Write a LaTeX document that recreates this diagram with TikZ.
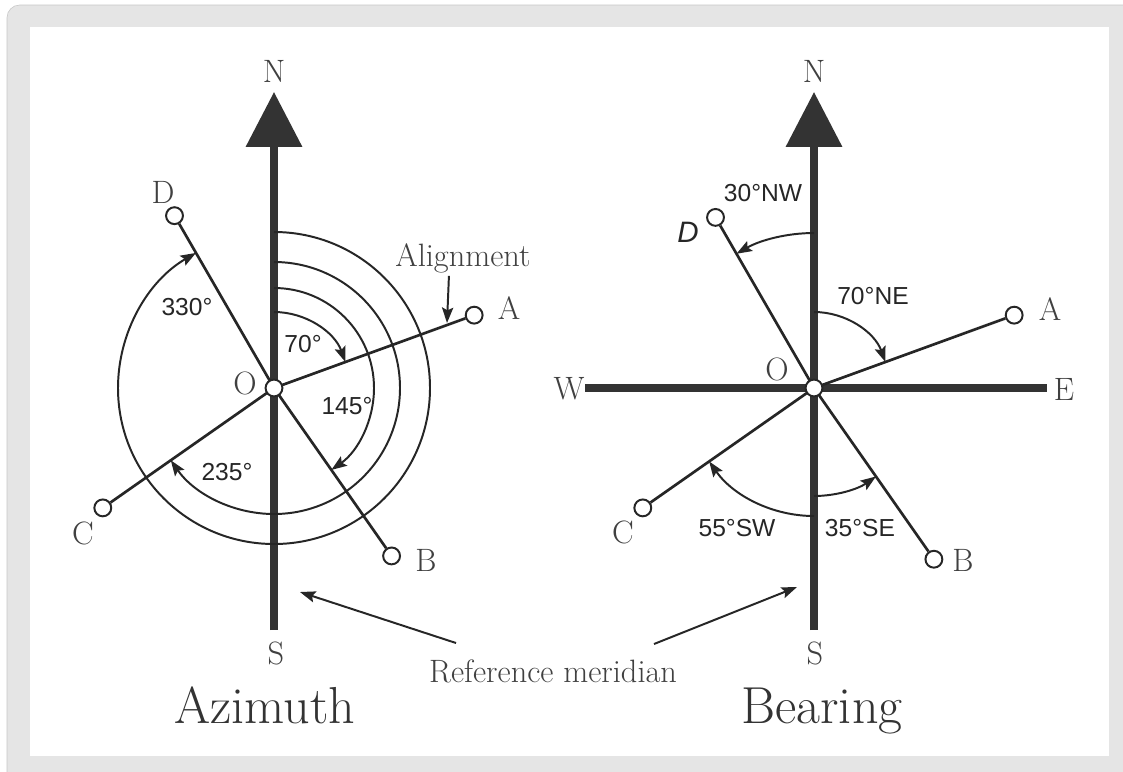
\documentclass[tikz,border=0pt]{standalone}
\usepackage{fontspec}
\newfontfamily\lblfont{Liberation Sans}
\usetikzlibrary{arrows.meta}
\tikzset{
  meridian/.style={line width=5pt,draw=black!80},
  ray/.style={line width=1.9pt,draw=black!85},
  angarc/.style={line width=1.4pt,draw=black!85,-{Stealth[length=11pt,width=8pt,inset=2pt]}},
  pointer/.style={line width=1.4pt,draw=black!85,-{Stealth[length=11pt,width=8pt,inset=2pt]}},
  pin/.style={circle,draw=black!85,line width=1.4pt,fill=white,minimum size=12pt,inner sep=0pt},
  letter/.style={text=black!75,font=\fontsize{23}{25}\selectfont,inner sep=0pt},
  angle label/.style={text=black!85,font=\lblfont\fontsize{17.5}{19}\selectfont,inner sep=0pt},
  title/.style={text=black!80,font=\fontsize{37}{40}\selectfont,inner sep=0pt,anchor=base}
}
\begin{document}
\begin{tikzpicture}[x=0.025cm,y=-0.025cm]
  \useasboundingbox (0,0) rectangle (1123,771);
  \filldraw[fill=gray!20,draw=gray!45,rounded corners=9pt] (7,5) rectangle (1150,800);
  \fill[white] (30,27) rectangle (1109,756);

  % azimuth
  \coordinate (O1) at (274,388);
  \coordinate (n1) at (274,92);
  \coordinate (s1) at (274,630);
  \draw[meridian,-{Triangle[length=39pt,width=39pt]}] (s1) -- (n1);
  \node[letter] (N1) at (274,71) {N};
  \node[letter] (S1) at (276,653) {S};
  \node[pin] (A1) at ([shift={(O1)}]-20:213) {};
  \node[pin] (B1) at ([shift={(O1)}]55:205) {};
  \node[pin] (C1) at ([shift={(O1)}]145:209) {};
  \node[pin] (D1) at ([shift={(O1)}]240:199) {};
  \foreach \p in {A1,B1,C1,D1}
    \draw[ray] (O1) -- (\p);
  \draw[angarc] ([shift={(O1)}]-90:76) arc[start angle=-90,end angle=-20,radius=76];
  \draw[angarc] ([shift={(O1)}]-90:100) arc[start angle=-90,end angle=55,radius=100];
  \draw[angarc] ([shift={(O1)}]-90:126) arc[start angle=-90,end angle=145,radius=126];
  \draw[angarc] ([shift={(O1)}]-90:156) arc[start angle=-90,end angle=240,radius=156];
  \node[pin] (o1) at (O1) {};
  \node[letter] (lA1) at (509,308) {A};
  \node[letter] (lB1) at (426,560) {B};
  \node[letter] (lC1) at (83,533) {C};
  \node[letter] (lD1) at (163,192) {D};
  \node[letter] (lO1) at (245,383) {O};
  \node[angle label] (a330) at (187,307) {330°};
  \node[angle label] (a70) at (303,344) {70°};
  \node[angle label] (a145) at (347,406) {145°};
  \node[angle label] (a235) at (227,472) {235°};
  \node[letter] (align) at (463,258) {Alignment};
  \coordinate (alpt) at (447,323);
  \draw[pointer] ([xshift=-10pt,yshift=-2pt]align.south) -- (alpt);
  \node[title] (az) at (265,723) {Azimuth};

  % bearing
  \coordinate (O2) at (814,388);
  \coordinate (n2) at (814,92);
  \coordinate (s2) at (814,630);
  \coordinate (w2) at (585,388);
  \coordinate (e2) at (1047,388);
  \draw[meridian,-{Triangle[length=39pt,width=39pt]}] (s2) -- (n2);
  \draw[meridian] (w2) -- (e2);
  \node[letter] (N2) at (814,71) {N};
  \node[letter] (S2) at (815,653) {S};
  \node[letter] (W2) at (569,389) {W};
  \node[letter] (E2) at (1064,389) {E};
  \node[pin] (A2) at ([shift={(O2)}]-20:213) {};
  \node[pin] (B2) at ([shift={(O2)}]55:209) {};
  \node[pin] (C2) at ([shift={(O2)}]145:209) {};
  \node[pin] (D2) at ([shift={(O2)}]240:197) {};
  \foreach \p in {A2,B2,C2,D2}
    \draw[ray] (O2) -- (\p);
  \draw[angarc] ([shift={(O2)}]-90:155) arc[start angle=-90,end angle=-120,radius=155];
  \draw[angarc] ([shift={(O2)}]-90:76) arc[start angle=-90,end angle=-20,radius=76];
  \draw[angarc] ([shift={(O2)}]90:128) arc[start angle=90,end angle=145,radius=128];
  \draw[angarc] ([shift={(O2)}]90:108) arc[start angle=90,end angle=55,radius=108];
  \node[pin] (o2) at (O2) {};
  \node[letter] (lA2) at (1050,309) {A};
  \node[letter] (lB2) at (963,560) {B};
  \node[letter] (lC2) at (623,532) {C};
  \node[letter] (lO2) at (777,369) {O};
  \node[angle label,font=\lblfont\itshape\fontsize{21}{23}\selectfont] (lD2) at (688,232) {D};
  \node[angle label] (nw) at (763,193) {30°NW};
  \node[angle label] (ne) at (873,296) {70°NE};
  \node[angle label] (sw) at (737,528) {55°SW};
  \node[angle label] (se) at (860,528) {35°SE};
  \node[title] (be) at (822,723) {Bearing};

  \node[letter,anchor=base] (ref) at (553,682) {Reference meridian};
  \coordinate (refl) at (456,643);
  \coordinate (refr) at (654,644);
  \coordinate (m1) at (300,592);
  \coordinate (m2) at (797,587);
  \draw[pointer] (refl) -- (m1);
  \draw[pointer] (refr) -- (m2);
\end{tikzpicture}
\end{document}
